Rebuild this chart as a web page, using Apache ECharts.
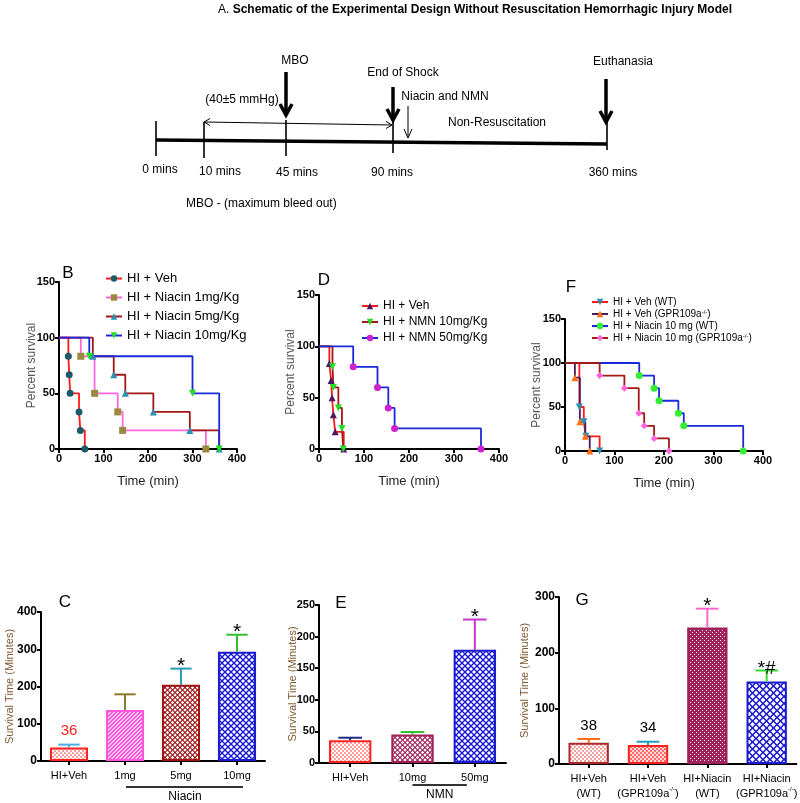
<!DOCTYPE html>
<html><head><meta charset="utf-8">
<script src="https://cdn.jsdelivr.net/npm/echarts/dist/echarts.min.js"></script>
<style>html,body{margin:0;padding:0;background:#fff}#c{width:800px;height:803px}</style>
</head><body><div id="c"></div>
<script>
// ---------------- DATA ----------------
// Panel B: Kaplan-Meier, Niacin doses
const bNames = ['B: HI + Veh', 'B: HI + Niacin 1mg/Kg', 'B: HI + Niacin 5mg/Kg', 'B: HI + Niacin 10mg/Kg'];
const bVehT = [0, 21, 23, 25, 45, 48, 58];
const bVehS = [100, 83.3, 66.7, 50, 33.3, 16.7, 0];
const bN1T = [0, 49, 80, 132, 143, 330];
const bN1S = [100, 83.3, 50, 33.3, 16.7, 0];
const bN5T = [0, 76, 123, 149, 212, 294, 360];
const bN5S = [100, 83.3, 66.7, 50, 33.3, 16.7, 0];
const bN10T = [0, 68, 300, 360];
const bN10S = [100, 83.3, 50, 0];
// Panel D: NMN
const dNames = ['D: HI + Veh', 'D: HI + NMN 10mg/Kg', 'D: HI + NMN 50mg/Kg'];
const dVehT = [0, 23, 27, 29, 32, 36, 55];
const dVehS = [100, 83.3, 66.7, 50, 33.3, 16.7, 0];
const dN10T = [0, 30, 32, 43, 51, 54];
const dN10S = [100, 80, 60, 40, 20, 0];
const dN50T = [0, 76, 130, 154, 168, 360];
const dN50S = [100, 80, 60, 40, 20, 0];
// Panel F: WT vs GPR109a-/-
const fNames = ['F: HI + Veh (WT)', 'F: HI + Veh (GPR109a-/-)', 'F: HI + Niacin 10 mg (WT)', 'F: HI + Niacin 10 mg (GPR109a-/-)'];
const fVehWtT = [0, 29, 38, 42, 70];
const fVehWtS = [100, 50, 33.3, 16.7, 0];
const fVehKoT = [0, 20, 30, 41, 50];
const fVehKoS = [100, 83.3, 33.3, 16.7, 0];
const fNiaWtT = [0, 150, 180, 190, 229, 240, 360];
const fNiaWtS = [100, 85.7, 71.4, 57.1, 42.9, 28.6, 0];
const fNiaKoT = [0, 70, 120, 149, 160, 180, 210];
const fNiaKoS = [100, 85.7, 71.4, 42.9, 28.6, 14.3, 0];
const survXTicks = [0, 400, 100];
const survYTicks = [0, 150, 50];
// Panel C: survival time, Niacin
const cCats = ['HI+Veh', '1mg', '5mg', '10mg'];
const cMean = [36, 137, 205, 293];
const cErr = [8, 42, 43, 46];
const cAnn = ['36', '', '*', '*'];
// Panel E: survival time, NMN
const eCats = ['HI+Veh', '10mg', '50mg'];
const eMean = [36, 45, 179];
const eErr = [4, 4, 48];
const eAnn = ['', '', '*'];
// Panel G: survival time, WT vs KO
const gCats = ['HI+Veh\n(WT)', 'HI+Veh\n(GPR109a-/-)', 'HI+Niacin\n(WT)', 'HI+Niacin\n(GPR109a-/-)'];
const gMean = [38, 34, 245, 148];
const gErr = [7, 6, 34, 20];
const gAnn = ['38', '34', '*', '*#'];

// ---------------- STYLE ----------------
const NARROW = '"Liberation Sans Narrow", "Arial Narrow", sans-serif';
const SANS = '"Liberation Sans", Arial, sans-serif';

function pat(kind, fg, bg, s) {
  const c = document.createElement('canvas');
  c.width = s; c.height = s;
  const g = c.getContext('2d');
  g.fillStyle = bg; g.fillRect(0, 0, s, s);
  g.fillStyle = fg;
  if (kind === 'checker') {
    const h = s / 2; g.fillRect(0, 0, h, h); g.fillRect(h, h, h, h);
  } else if (kind === 'diag') {
    for (let i = 0; i < s; i++) { g.fillRect(i, s - 1 - i, 1, 1); g.fillRect((i + 1) % s, s - 1 - i, 1, 1); }
  } else if (kind === 'mesh') {
    g.fillRect(0, 0, s, s);
    g.fillStyle = bg;
    const r = s * 0.34;
    const holes = [[s / 2, s / 2], [0, 0], [s, 0], [0, s], [s, s]];
    holes.forEach(([cx, cy]) => {
      g.beginPath(); g.moveTo(cx, cy - r); g.lineTo(cx + r, cy); g.lineTo(cx, cy + r); g.lineTo(cx - r, cy); g.closePath(); g.fill();
    });
  } else if (kind === 'dots') {
    g.fillRect(0, 0, s, s);
    g.fillStyle = bg;
    g.fillRect(0, 0, 1, 1); g.fillRect(s / 2, s / 2, 1, 1);
  }
  return { image: c, repeat: 'repeat' };
}

const cStyles = [
  { fill: pat('checker', '#ff9c9c', '#ffffff', 4), border: '#ff2020' },
  { fill: pat('diag', '#ff55dd', '#ffc8f4', 4), border: '#ff55dd' },
  { fill: pat('mesh', '#a01414', '#ffffff', 5), border: '#a01414' },
  { fill: pat('mesh', '#1a1ad0', '#ffffff', 6), border: '#1a1ad0' }
];
const cErrColors = ['#4aaee0', '#8a7a2a', '#2a9ab8', '#30c030'];
const cAnnColors = ['#ff2020', '#000', '#000', '#000'];
const eStyles = [
  { fill: pat('checker', '#ff9c9c', '#ffffff', 4), border: '#ff2020' },
  { fill: pat('mesh', '#a0205a', '#ffffff', 5), border: '#a0205a' },
  { fill: pat('mesh', '#1a1ad0', '#ffffff', 6), border: '#1a1ad0' }
];
const eErrColors = ['#1a2a80', '#30c030', '#cc33cc'];
const eAnnColors = ['#000', '#000', '#000'];
const gStyles = [
  { fill: pat('checker', '#f5a0a0', '#ffffff', 4), border: '#a8282d' },
  { fill: pat('checker', '#ff6a6a', '#ffd8d8', 4), border: '#ff2020' },
  { fill: pat('dots', '#a0205a', '#ffffff', 4), border: '#a0205a' },
  { fill: pat('mesh', '#1a1ad0', '#ffffff', 7), border: '#1a1ad0' }
];
const gErrColors = ['#ff6a10', '#20a0c0', '#ff66cc', '#30e030'];
const gAnnColors = ['#000', '#000', '#000', '#000'];

// ---------------- BUILD ----------------
const grids = [
  { left: 59, top: 282, width: 178, height: 167 },   // B
  { left: 319, top: 295, width: 180, height: 154 },  // D
  { left: 565, top: 319, width: 198, height: 132 },  // F
  { left: 41, top: 612, width: 224, height: 149 },   // C
  { left: 319, top: 605, width: 187, height: 158 },  // E
  { left: 559, top: 597, width: 240, height: 167 }   // G
];

const axLine = { show: true, onZero: false, lineStyle: { color: '#000', width: 2 } };
const axTick = { show: true, length: 4, lineStyle: { color: '#000', width: 2 } };
const tickLabel = sz => ({ fontFamily: NARROW, fontWeight: 'bold', fontSize: sz, color: '#000', margin: 4 });

const xAxes = [], yAxes = [];
[0, 1, 2].forEach(k => {
  xAxes.push({
    type: 'value', gridIndex: k, min: survXTicks[0], max: survXTicks[1], interval: survXTicks[2],
    axisLine: axLine, axisTick: axTick, splitLine: { show: false }, axisLabel: tickLabel(11),
    name: 'Time (min)', nameLocation: 'middle', nameGap: 26, nameMoveOverlap: false,
    nameTextStyle: { fontFamily: NARROW, fontSize: 13, color: '#222' }
  });
  yAxes.push({
    type: 'value', gridIndex: k, min: survYTicks[0], max: survYTicks[1], interval: survYTicks[2],
    axisLine: axLine, axisTick: axTick, splitLine: { show: false }, axisLabel: tickLabel(11),
    name: 'Percent survival', nameLocation: 'middle', nameGap: [21, 22, 22][k], nameMoveOverlap: false,
    nameTextStyle: { fontFamily: SANS, fontSize: 12, color: '#555' }
  });
});
const barCats = [cCats, eCats, gCats];
const barY = [[0, 400, 100, 26, 12], [0, 250, 50, 21, 11], [0, 300, 100, 29, 12]];
[3, 4, 5].forEach((k, j) => {
  xAxes.push({
    type: 'category', gridIndex: k, data: barCats[j],
    axisLine: axLine, axisTick: { show: true, alignWithLabel: true, length: 4, lineStyle: { color: '#000', width: 2 } },
    axisLabel: {
      fontFamily: SANS, fontSize: 11, color: '#000', margin: 7, interval: 0, lineHeight: 15,
      formatter: v => v.replace('-/-', '{sup|-/-}'),
      rich: { sup: { fontSize: 6, verticalAlign: 'top', fontFamily: SANS, color: '#000', lineHeight: 15 } }
    }
  });
  yAxes.push({
    type: 'value', gridIndex: k, min: barY[j][0], max: barY[j][1], interval: barY[j][2],
    axisLine: axLine, axisTick: axTick, splitLine: { show: false }, axisLabel: tickLabel(barY[j][4]),
    name: 'Survival Time (Minutes)', nameLocation: 'middle', nameGap: barY[j][3], nameMoveOverlap: false,
    nameTextStyle: { fontFamily: SANS, fontSize: 11, color: '#80592e' }
  });
});

function km(name, T, S, axis, lineColor, markColor, symbol, rot) {
  return {
    type: 'line', name, xAxisIndex: axis, yAxisIndex: axis, step: 'end', clip: false,
    symbol, symbolSize: 7, symbolRotate: rot || 0, showAllSymbol: true,
    lineStyle: { color: lineColor, width: 1.8 }, itemStyle: { color: markColor },
    emphasis: { disabled: true },
    data: T.map((t, i) => i === 0 ? { value: [t, S[i]], symbol: 'none' } : [t, S[i]])
  };
}

function bars(axis, means, styles) {
  return {
    type: 'bar', xAxisIndex: axis, yAxisIndex: axis, barWidth: '68%',
    emphasis: { disabled: true },
    data: means.map((v, i) => ({ value: v, itemStyle: { color: styles[i].fill, borderColor: styles[i].border, borderWidth: 2 } }))
  };
}

function errs(axis, means, es, colors, anns, annColors) {
  return {
    type: 'custom', xAxisIndex: axis, yAxisIndex: axis, z: 5, clip: false,
    data: means.map((m, i) => [i, m, es[i]]),
    renderItem: (params, api) => {
      const i = api.value(0), m = api.value(1), e = api.value(2);
      const p0 = api.coord([i, m]), p1 = api.coord([i, m + e]);
      const hw = api.size([1, 0])[0] * 0.19;
      const col = colors[params.dataIndex];
      const ann = anns[params.dataIndex];
      const isNum = /\d/.test(ann);
      const children = [
        { type: 'line', shape: { x1: p0[0], y1: p0[1], x2: p1[0], y2: p1[1] }, style: { stroke: col, lineWidth: 2 } },
        { type: 'line', shape: { x1: p1[0] - hw, y1: p1[1], x2: p1[0] + hw, y2: p1[1] }, style: { stroke: col, lineWidth: 2 } }
      ];
      if (ann) {
        children.push({
          type: 'text',
          style: {
            text: ann, x: p1[0], y: isNum ? p1[1] - 6 : p1[1] + 8, align: 'center', verticalAlign: 'bottom',
            fontFamily: SANS, fontSize: isNum ? 15 : (ann.length > 1 ? 19 : 21), fill: annColors[params.dataIndex]
          }
        });
      }
      return { type: 'group', children };
    }
  };
}

const series = [
  km(bNames[0], bVehT, bVehS, 0, '#ff1a1a', '#1d5a6a', 'circle'),
  km(bNames[1], bN1T, bN1S, 0, '#ff66dd', '#9a8a40', 'rect'),
  km(bNames[2], bN5T, bN5S, 0, '#a01818', '#2a8fb0', 'triangle'),
  km(bNames[3], bN10T, bN10S, 0, '#1a2ad8', '#22dd22', 'triangle', 180),
  km(dNames[0], dVehT, dVehS, 1, '#ff1a1a', '#4b1a5e', 'triangle'),
  km(dNames[1], dN10T, dN10S, 1, '#a01818', '#22dd22', 'triangle', 180),
  km(dNames[2], dN50T, dN50S, 1, '#1a2ad8', '#d020d0', 'circle'),
  km(fNames[0], fVehWtT, fVehWtS, 2, '#ff1a1a', '#2a8fb0', 'triangle', 180),
  km(fNames[1], fVehKoT, fVehKoS, 2, '#4b1a5e', '#ff7010', 'triangle'),
  km(fNames[2], fNiaWtT, fNiaWtS, 2, '#1a2ad8', '#33ee33', 'circle'),
  km(fNames[3], fNiaKoT, fNiaKoS, 2, '#a01818', '#ff66dd', 'diamond'),
  bars(3, cMean, cStyles), errs(3, cMean, cErr, cErrColors, cAnn, cAnnColors),
  bars(4, eMean, eStyles), errs(4, eMean, eErr, eErrColors, eAnn, eAnnColors),
  bars(5, gMean, gStyles), errs(5, gMean, gErr, gErrColors, gAnn, gAnnColors)
];

const legFmt = n => n.replace(/^.: /, '').replace('-/-', '{sup|-/-}');
function legend(data, left, top, gap, font, size) {
  return {
    data, left, top, orient: 'vertical', itemGap: gap, itemWidth: 16, itemHeight: 8,
    selectedMode: false, formatter: legFmt,
    textStyle: { fontFamily: font, fontSize: size, color: '#000', rich: { sup: { fontSize: 6, verticalAlign: 'top', fontFamily: font } } }
  };
}

// Schematic (panel A) elements
const tl = { x1: 156, y1: 140, x2: 607, y2: 144 };
const schTicks = [
  { x: 156, t: 121, b: 156, label: '0 mins', lx: 160, ly: 170 },
  { x: 204, t: 122, b: 158, label: '10 mins', lx: 220, ly: 172 },
  { x: 286, t: 120, b: 156, label: '45 mins', lx: 297, ly: 173 },
  { x: 393, t: 122, b: 153, label: '90 mins', lx: 392, ly: 172.5 },
  { x: 607, t: 116, b: 150, label: '360 mins', lx: 613, ly: 172.5 }
];
const schArrows = [
  { x: 286, t: 72, b: 115, w: 3.5, hw: 6, hh: 11, label: 'MBO', lx: 295, ly: 61 },
  { x: 393, t: 87, b: 120, w: 3.5, hw: 6, hh: 11, label: 'End of Shock', lx: 403, ly: 73 },
  { x: 606, t: 79, b: 122, w: 3.5, hw: 6, hh: 11, label: 'Euthanasia', lx: 623, ly: 62 },
  { x: 408, t: 106, b: 138, w: 1, hw: 4, hh: 9, label: 'Niacin and NMN', lx: 445, ly: 96.5 }
];

function txt(text, x, y, opts) {
  return Object.assign({ type: 'text', silent: true, style: Object.assign({ text, x, y, align: 'center', verticalAlign: 'middle', fontFamily: SANS, fontSize: 12, fill: '#000' }, opts || {}) });
}
function ln(x1, y1, x2, y2, w, col) {
  return { type: 'line', silent: true, shape: { x1, y1, x2, y2 }, style: { stroke: col || '#000', lineWidth: w } };
}
function pl(points, w) {
  return { type: 'polyline', silent: true, shape: { points }, style: { stroke: '#000', lineWidth: w, fill: null, lineJoin: 'miter' } };
}

const graphic = [];
graphic.push(txt('{a|A.} Schematic of the Experimental Design Without Resuscitation Hemorrhagic Injury Model', 218, 10, {
  align: 'left', fontFamily: NARROW, fontWeight: 'bold', fontSize: 12,
  rich: { a: { fontFamily: NARROW, fontWeight: 'normal', fontSize: 12 } }
}));
graphic.push(ln(tl.x1, tl.y1, tl.x2, tl.y2, 3.5));
schTicks.forEach(t => { graphic.push(ln(t.x, t.t, t.x, t.b, 1.6)); graphic.push(txt(t.label, t.lx, t.ly)); });
schArrows.forEach(a => {
  graphic.push(ln(a.x, a.t, a.x, a.b - 1, a.w));
  graphic.push(pl([[a.x - a.hw, a.b - a.hh], [a.x, a.b], [a.x + a.hw, a.b - a.hh]], a.w));
  graphic.push(txt(a.label, a.lx, a.ly));
});
// double arrow (40±5 mmHg)
graphic.push(ln(204, 122, 392, 125, 1));
graphic.push(pl([[210, 118.5], [204, 122], [210, 125.5]], 1));
graphic.push(pl([[386, 121.5], [392, 125], [386, 128.5]], 1));
graphic.push(txt('(40±5 mmHg)', 242, 100));
graphic.push(txt('Non-Resuscitation', 497, 122.5));
graphic.push(txt('MBO - (maximum bleed out)', 186, 204, { align: 'left' }));
// panel letters
[['B', 68, 273], ['D', 324, 280], ['F', 571, 287], ['C', 65, 602], ['E', 341, 603], ['G', 582, 600]].forEach(l => {
  graphic.push(txt(l[0], l[1], l[2], { fontSize: 17 }));
});

const chart = echarts.init(document.getElementById('c'), null, { renderer: 'canvas', width: 800, height: 803 });
chart.setOption({
  animation: false,
  backgroundColor: '#fff',
  grid: grids,
  xAxis: xAxes,
  yAxis: yAxes,
  legend: [
    legend(bNames, 100, 267, 6, NARROW, 13),
    legend(dNames, 356, 295, 4, NARROW, 12),
    legend(fNames, 586, 292, 2, SANS, 10)
  ],
  series,
  graphic
});

// group brackets under bar labels, placed through the axis scales
const bx = (axis, cat) => chart.convertToPixel({ xAxisIndex: axis }, cat);
const cL = bx(3, cCats[1]), cR = bx(3, cCats[3]);
const eL = bx(4, eCats[1]), eR = bx(4, eCats[2]);
graphic.push(ln(cL + 1, 787, cR + 6, 787, 2, '#333'));
graphic.push(txt('Niacin', (cL + cR) / 2 + 4, 797, { fontSize: 12 }));
graphic.push(ln(eL, 785, eR - 8, 785, 2, '#333'));
graphic.push(txt('NMN', (eL + eR) / 2 - 4, 795, { fontSize: 12 }));
chart.setOption({ graphic });
</script></body></html>
